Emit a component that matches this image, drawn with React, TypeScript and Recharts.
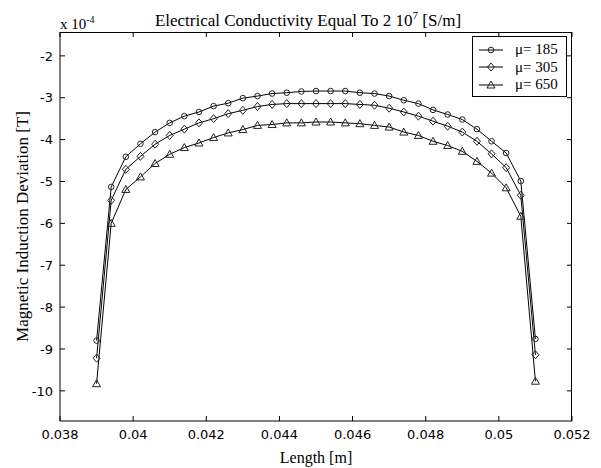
import { Label, Legend, Line, LineChart, XAxis, YAxis } from "recharts";

const lengths = [
  0.039, 0.0394, 0.0398, 0.0402, 0.0406, 0.041, 0.0414, 0.0418, 0.0422, 0.0426, 0.043,
  0.0434, 0.0438, 0.0442, 0.0446, 0.045, 0.0454, 0.0458, 0.0462, 0.0466, 0.047, 0.0474,
  0.0478, 0.0482, 0.0486, 0.049, 0.0494, 0.0498, 0.0502, 0.0506, 0.051,
];

// values in units of 1e-4 T
const mu185 = [
  -8.8, -5.13, -4.41, -4.1, -3.82, -3.6, -3.44, -3.34, -3.2, -3.13, -3.01, -2.96, -2.9, -2.88,
  -2.85, -2.84, -2.84, -2.84, -2.88, -2.9, -2.96, -3.06, -3.14, -3.29, -3.4, -3.52, -3.75,
  -4.04, -4.32, -4.99, -8.76,
];
const mu305 = [
  -9.22, -5.45, -4.71, -4.4, -4.11, -3.9, -3.75, -3.6, -3.5, -3.38, -3.3, -3.21, -3.16, -3.14,
  -3.14, -3.14, -3.14, -3.14, -3.16, -3.18, -3.25, -3.34, -3.44, -3.56, -3.68, -3.82, -4.04,
  -4.34, -4.67, -5.33, -9.14,
];
const mu650 = [
  -9.83, -6.0, -5.19, -4.89, -4.57, -4.35, -4.19, -4.08, -3.95, -3.84, -3.76, -3.66, -3.64,
  -3.6, -3.6, -3.58, -3.58, -3.6, -3.62, -3.66, -3.7, -3.82, -3.9, -4.04, -4.14, -4.28, -4.52,
  -4.8, -5.15, -5.83, -9.77,
];

const seriesNames = ["μ= 185", "μ= 305", "μ= 650"];
const xTicks = [0.038, 0.04, 0.042, 0.044, 0.046, 0.048, 0.05, 0.052];
const yTicks = [-2, -3, -4, -5, -6, -7, -8, -9, -10];
const xDomain: [number, number] = [0.038, 0.052];
const yDomain: [number, number] = [-10.72, -1.43];

const data = lengths.map((x, i) => ({ x, a: mu185[i], b: mu305[i], c: mu650[i] }));

const W = 601;
const H = 468;
const margin = { top: 32, right: 29, bottom: 0, left: 0 };
const yAxisWidth = 60;
const xAxisHeight = 47;
const plotTop = margin.top;
const plotRight = W - margin.right;

type Shape = "circle" | "diamond" | "triangle";
const shapes: Shape[] = ["circle", "diamond", "triangle"];

function Marker({ cx, cy, shape }: { cx: number; cy: number; shape: Shape }) {
  const st = { fill: "none", stroke: "#222", strokeWidth: 1 };
  if (shape === "circle") return <circle cx={cx} cy={cy} r={2.8} {...st} />;
  if (shape === "diamond")
    return (
      <polygon
        points={`${cx},${cy - 4} ${cx + 3.5},${cy} ${cx},${cy + 4} ${cx - 3.5},${cy}`}
        {...st}
      />
    );
  return (
    <polygon points={`${cx},${cy - 4} ${cx + 4},${cy + 3} ${cx - 4},${cy + 3}`} {...st} />
  );
}

const tickFont = { fontFamily: "DejaVu Sans", fontSize: 13, fill: "#000" };

// bottom tick: inward tick at the bottom and the matching one on the top edge
function BottomTick(props: any) {
  const { x, y, payload } = props;
  return (
    <g>
      <path d={`M${x},${y - 7}V${y - 12}M${x},${plotTop}V${plotTop + 5}`} stroke="#000" strokeWidth={1} />
      <text x={x} y={y} dy="0.85em" textAnchor="middle" {...tickFont}>
        {payload.value}
      </text>
    </g>
  );
}

// left tick: inward tick at the left and the matching one on the right edge
function LeftTick(props: any) {
  const { x, y, payload } = props;
  return (
    <g>
      <path d={`M${x + 7},${y}H${x + 12}M${plotRight},${y}H${plotRight - 5}`} stroke="#000" strokeWidth={1} />
      <text x={x} y={y} dy="0.36em" textAnchor="end" {...tickFont}>
        {payload.value}
      </text>
    </g>
  );
}

const xLabel = (p: any) => {
  const vb = p.viewBox;
  return (
    <text
      x={vb.x + vb.width / 2}
      y={vb.y + vb.height - 5}
      textAnchor="middle"
      fontFamily="Liberation Serif"
      fontSize={16}
      fill="#000"
    >
      Length [m]
    </text>
  );
};

const yLabel = (p: any) => {
  const vb = p.viewBox;
  const cx = vb.x + 22;
  const cy = vb.y + vb.height / 2;
  return (
    <text
      x={cx}
      y={cy}
      transform={`rotate(-90 ${cx} ${cy})`}
      textAnchor="middle"
      dominantBaseline="central"
      fontFamily="Liberation Serif"
      fontSize={17}
      fill="#000"
    >
      Magnetic Induction Deviation [T]
    </text>
  );
};

const renderLegend = (props: any) => {
  const items = props.payload ?? [];
  return (
    <div
      style={{
        border: "1px solid #000",
        background: "#fff",
        width: 93,
        height: 55,
        paddingTop: 4,
        fontFamily: "Liberation Serif",
        fontSize: 15,
        color: "#000",
      }}
    >
      {items.map((item: any, i: number) => (
        <div key={item.value} style={{ display: "flex", alignItems: "center", height: 17.5 }}>
          <svg width={36} height={12} style={{ marginLeft: 3, marginRight: 3 }}>
            <line x1={3} x2={27} y1={6} y2={6} stroke="#000" />
            <Marker cx={15} cy={6} shape={shapes[i]} />
          </svg>
          <span>{item.value}</span>
        </div>
      ))}
    </div>
  );
};

const dotFor = (shape: Shape, key: string) => (p: any) =>
  <Marker key={`${key}-${p.index}`} cx={p.cx} cy={p.cy} shape={shape} />;

export default function App() {
  return (
    <div
      style={{
        position: "absolute",
        left: 0,
        top: 0,
        width: W,
        height: H,
        background: "#fff",
        fontFamily: "Liberation Serif",
      }}
    >
      <div
        style={{
          position: "absolute",
          left: 108,
          width: 400,
          top: 5,
          textAlign: "center",
          fontSize: 17,
          lineHeight: "20px",
          zIndex: 2,
        }}
      >
        Electrical Conductivity Equal To 2 10<sup style={{ fontSize: 11 }}>7</sup> [S/m]
      </div>
      <div
        style={{
          position: "absolute",
          left: 60,
          top: 10,
          fontSize: 15,
          lineHeight: "20px",
          zIndex: 2,
        }}
      >
        x 10<sup style={{ fontSize: 10 }}>-4</sup>
      </div>
      {/* top and right sides of the axes box */}
      <div
        style={{
          position: "absolute",
          left: margin.left + yAxisWidth,
          top: plotTop - 0.5,
          width: plotRight - margin.left - yAxisWidth,
          height: H - margin.top - margin.bottom - xAxisHeight,
          boxSizing: "border-box",
          borderTop: "1px solid #000",
          borderRight: "1px solid #000",
          pointerEvents: "none",
          zIndex: 3,
        }}
      />
      <LineChart width={W} height={H} data={data} margin={margin}>
        <XAxis
          dataKey="x"
          type="number"
          domain={xDomain}
          ticks={xTicks}
          interval={0}
          allowDataOverflow
          height={xAxisHeight}
          tickLine={false}
          tickSize={0}
          tickMargin={7}
          axisLine={{ stroke: "#000" }}
          tick={<BottomTick />}
        >
          <Label content={xLabel} />
        </XAxis>
        <YAxis
          type="number"
          domain={yDomain}
          ticks={yTicks}
          interval={0}
          allowDataOverflow
          width={yAxisWidth}
          tickLine={false}
          tickSize={0}
          tickMargin={7}
          axisLine={{ stroke: "#000" }}
          tick={<LeftTick />}
        >
          <Label content={yLabel} />
        </YAxis>
        <Legend
          content={renderLegend}
          layout="vertical"
          align="center"
          verticalAlign="middle"
          wrapperStyle={{ left: 472, top: 36, width: 95, height: 57 }}
        />
        <Line
          dataKey="a"
          name={seriesNames[0]}
          stroke="#000"
          strokeWidth={1}
          dot={dotFor("circle", "a")}
          activeDot={false}
          isAnimationActive={false}
        />
        <Line
          dataKey="b"
          name={seriesNames[1]}
          stroke="#000"
          strokeWidth={1}
          dot={dotFor("diamond", "b")}
          activeDot={false}
          isAnimationActive={false}
        />
        <Line
          dataKey="c"
          name={seriesNames[2]}
          stroke="#000"
          strokeWidth={1}
          dot={dotFor("triangle", "c")}
          activeDot={false}
          isAnimationActive={false}
        />
      </LineChart>
    </div>
  );
}
